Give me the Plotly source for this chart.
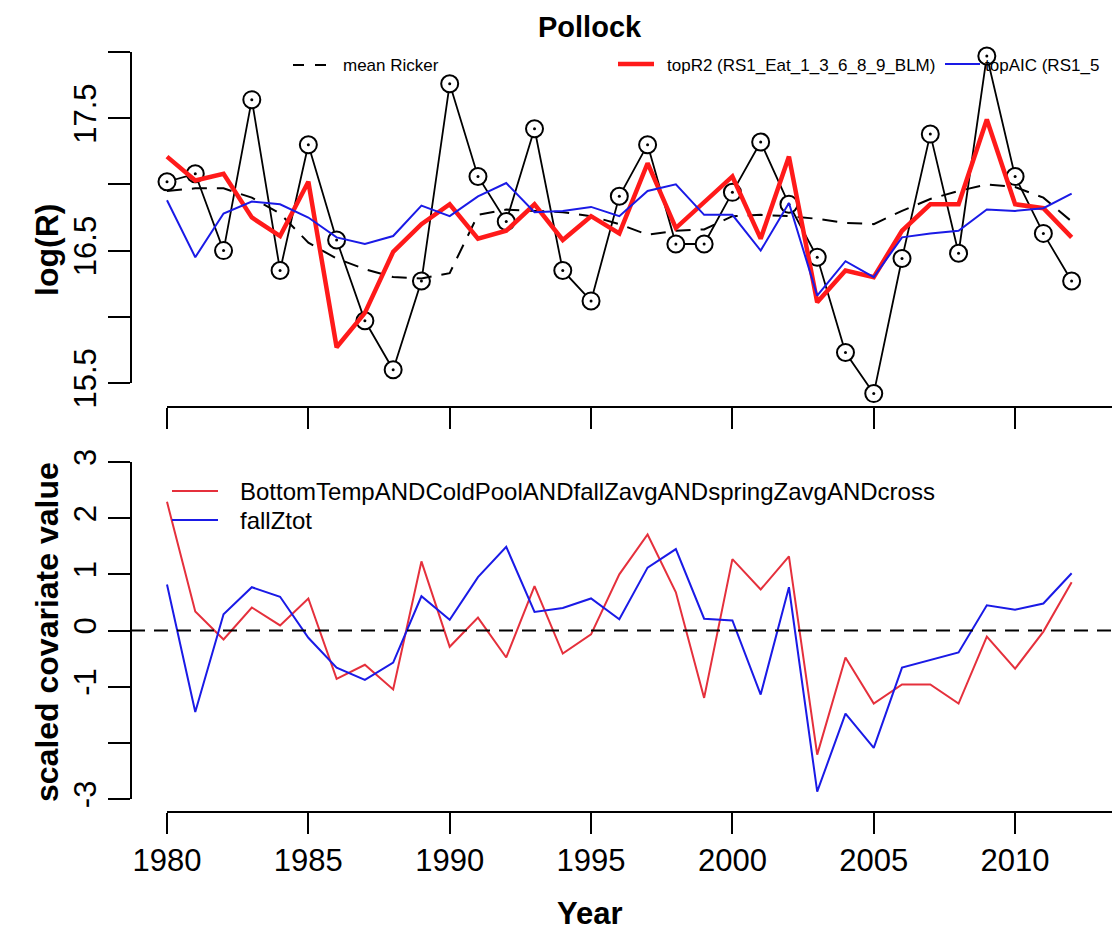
import plotly.graph_objects as go

# ---------------- data ----------------
years = list(range(1980, 2013))

observed = [17.02, 17.08, 16.50, 17.64, 16.35, 17.30, 16.58, 15.97, 15.60, 16.27,
            17.76, 17.06, 16.72, 17.42, 16.35, 16.12, 16.91, 17.30, 16.55, 16.55,
            16.94, 17.32, 16.85, 16.45, 15.73, 15.42, 16.44, 17.38, 16.48, 17.97,
            17.06, 16.63, 16.27]

mean_ricker = [16.95, 16.97, 16.97, 16.90, 16.78, 16.56, 16.44, 16.36, 16.30, 16.29,
               16.33, 16.77, 16.81, 16.80, 16.79, 16.76, 16.70, 16.62, 16.65, 16.66,
               16.76, 16.77, 16.76, 16.74, 16.71, 16.70, 16.80, 16.89, 16.95, 17.00,
               16.98, 16.90, 16.72]

top_r2 = [17.21, 17.03, 17.08, 16.75, 16.61, 17.02, 15.77, 16.03, 16.49, 16.70,
          16.85, 16.59, 16.65, 16.85, 16.58, 16.76, 16.63, 17.16, 16.67, 16.87,
          17.06, 16.59, 17.21, 16.11, 16.35, 16.30, 16.65, 16.85, 16.85, 17.49,
          16.85, 16.82, 16.60]

top_aic = [16.88, 16.45, 16.78, 16.87, 16.85, 16.75, 16.60, 16.55, 16.61, 16.84,
           16.76, 16.91, 17.01, 16.79, 16.80, 16.83, 16.76, 16.95, 17.00, 16.77,
           16.77, 16.50, 16.86, 16.16, 16.42, 16.30, 16.60, 16.63, 16.65, 16.81,
           16.80, 16.82, 16.93]

cov_combo = [2.29, 0.34, -0.16, 0.41, 0.09, 0.57, -0.86, -0.61, -1.05, 1.23,
             -0.29, 0.23, -0.48, 0.79, -0.41, -0.07, 1.00, 1.71, 0.68, -1.20,
             1.27, 0.73, 1.32, -2.21, -0.48, -1.30, -0.96, -0.96, -1.30, -0.11,
             -0.68, -0.02, 0.86]

cov_fallztot = [0.82, -1.45, 0.29, 0.77, 0.60, -0.13, -0.66, -0.88, -0.57, 0.61,
                0.19, 0.95, 1.49, 0.33, 0.40, 0.57, 0.20, 1.12, 1.45, 0.21,
                0.18, -1.14, 0.77, -2.87, -1.48, -2.09, -0.66, -0.52, -0.39, 0.45,
                0.37, 0.48, 1.02]

x_ticks = [1980, 1985, 1990, 1995, 2000, 2005, 2010]
top_y_ticks = [15.5, 16.0, 16.5, 17.0, 17.5, 18.0]
top_y_labels = ["15.5", "", "16.5", "", "17.5", ""]
bot_y_ticks = [-3, -2, -1, 0, 1, 2, 3]
bot_y_labels = ["-3", "", "-1", "0", "1", "2", "3"]

label_combo = "BottomTempANDColdPoolANDfallZavgANDspringZavgANDcross"
label_fallz = "fallZtot"
label_mean = "mean Ricker"
label_r2 = "topR2 (RS1_Eat_1_3_6_8_9_BLM)"
label_aic = "topAIC (RS1_5"

# ---------------- layout helpers ----------------
W, H = 1112, 933
FONT = "Liberation Sans, Arial, Helvetica, sans-serif"


def X(px):
    return px / W


def Y(py):
    return 1 - py / H


RED_TOP = "#ff1a1a"
RED_BOT = "#e5303c"
BLUE = "#1a1ae6"

fig = go.Figure()

# observed recruitment (type "b": line + open circles)
fig.add_trace(go.Scatter(x=years, y=observed, mode="lines+markers", xaxis="x", yaxis="y",
                         line=dict(color="black", width=1.8),
                         marker=dict(symbol="circle", size=17, color="white",
                                     line=dict(color="black", width=2)),
                         showlegend=False))
fig.add_trace(go.Scatter(x=years, y=observed, mode="markers", xaxis="x", yaxis="y",
                         marker=dict(symbol="circle", size=3, color="black"),
                         showlegend=False))
fig.add_trace(go.Scatter(x=years, y=mean_ricker, mode="lines", xaxis="x", yaxis="y",
                         line=dict(color="black", width=2, dash="15px,10px"),
                         showlegend=False))
fig.add_trace(go.Scatter(x=years, y=top_r2, mode="lines", xaxis="x", yaxis="y",
                         line=dict(color=RED_TOP, width=4.5), showlegend=False))
fig.add_trace(go.Scatter(x=years, y=top_aic, mode="lines", xaxis="x", yaxis="y",
                         line=dict(color=BLUE, width=2), showlegend=False))

# bottom panel
fig.add_trace(go.Scatter(x=years, y=cov_combo, mode="lines", xaxis="x2", yaxis="y2",
                         line=dict(color=RED_BOT, width=2), showlegend=False))
fig.add_trace(go.Scatter(x=years, y=cov_fallztot, mode="lines", xaxis="x2", yaxis="y2",
                         line=dict(color=BLUE, width=2), showlegend=False))

xrange = [1980 - (167 - 131) / 28.27, 1980 + (W - 167) / 28.27]
top_dom = [Y(407), Y(40)]
top_range = [18 - (407 - 52) / 132.4, 18 + (52 - 40) / 132.4]
bot_dom = [Y(812), Y(440)]
bot_range = [(630.5 - 812) / 56.17, (630.5 - 440) / 56.17]

axis_common = dict(showline=False, showgrid=False, zeroline=False, ticks="outside",
                   tickwidth=2, tickcolor="black", automargin=False,
                   tickfont=dict(family=FONT, size=31, color="black"))

fig.update_layout(
    template="none",
    width=W, height=H,
    margin=dict(l=0, r=0, t=0, b=0),
    paper_bgcolor="white", plot_bgcolor="white",
    showlegend=False,
    xaxis=dict(domain=[X(131), 1], range=xrange, anchor="y", tickvals=x_ticks,
               showticklabels=False, ticklen=21, **axis_common),
    yaxis=dict(domain=top_dom, range=top_range, anchor="x", tickvals=top_y_ticks,
               ticktext=top_y_labels, tickangle=-90, ticklen=22, **axis_common),
    xaxis2=dict(domain=[X(131), 1], range=xrange, anchor="y2", tickvals=x_ticks,
                ticktext=[str(v) for v in x_ticks], ticklen=21, **axis_common),
    yaxis2=dict(domain=bot_dom, range=bot_range, anchor="x2", tickvals=bot_y_ticks,
                ticktext=bot_y_labels, tickangle=-90, ticklen=22, **axis_common),
)

shapes = []
# axis lines (R style: span first to last tick)
shapes.append(dict(type="line", xref="paper", yref="y", x0=X(131), x1=X(131),
                   y0=top_y_ticks[0], y1=top_y_ticks[-1], line=dict(color="black", width=2)))
shapes.append(dict(type="line", xref="paper", yref="y2", x0=X(131), x1=X(131),
                   y0=bot_y_ticks[0], y1=bot_y_ticks[-1], line=dict(color="black", width=2)))
shapes.append(dict(type="line", xref="x", yref="paper", x0=x_ticks[0], x1=2016,
                   y0=Y(407), y1=Y(407), line=dict(color="black", width=2)))
shapes.append(dict(type="line", xref="x2", yref="paper", x0=x_ticks[0], x1=2016,
                   y0=Y(812), y1=Y(812), line=dict(color="black", width=2)))
# zero reference line
shapes.append(dict(type="line", xref="paper", yref="y2", x0=X(131), x1=1, y0=0, y1=0,
                   line=dict(color="black", width=2, dash="14px,9px")))
# legend keys
shapes.append(dict(type="line", xref="paper", yref="paper", x0=X(293), x1=X(328),
                   y0=Y(65), y1=Y(65), line=dict(color="black", width=2, dash="11px,11px")))
shapes.append(dict(type="line", xref="paper", yref="paper", x0=X(618), x1=X(654),
                   y0=Y(64), y1=Y(64), line=dict(color=RED_TOP, width=4.5)))
shapes.append(dict(type="line", xref="paper", yref="paper", x0=X(945), x1=X(980),
                   y0=Y(64), y1=Y(64), line=dict(color=BLUE, width=2)))
shapes.append(dict(type="line", xref="paper", yref="paper", x0=X(172), x1=X(218),
                   y0=Y(491), y1=Y(491), line=dict(color=RED_BOT, width=2)))
shapes.append(dict(type="line", xref="paper", yref="paper", x0=X(172), x1=X(218),
                   y0=Y(520), y1=Y(520), line=dict(color=BLUE, width=2)))
fig.update_layout(shapes=shapes)

ann = []


def txt(text, px, py, size, xanchor="left", angle=0, bold=False):
    ann.append(dict(text=("<b>%s</b>" % text) if bold else text, x=X(px), y=Y(py),
                    xref="paper", yref="paper", showarrow=False, xanchor=xanchor,
                    yanchor="middle", textangle=angle,
                    font=dict(family=FONT, size=size, color="black")))


txt("Pollock", 590, 27, 29, xanchor="center", bold=True)
txt("log(R)", 47, 250, 32, xanchor="center", angle=-90, bold=True)
txt("scaled covariate value", 47, 632, 32, xanchor="center", angle=-90, bold=True)
txt("Year", 590, 913, 31, xanchor="center", bold=True)
txt(label_mean, 341, 65, 17)
txt(label_r2, 665, 65, 17)
txt(label_aic, 983, 65, 17)
txt(label_combo, 238, 492, 24)
txt(label_fallz, 238, 520, 24)
fig.update_layout(annotations=ann)

fig.write_html("out.html")
